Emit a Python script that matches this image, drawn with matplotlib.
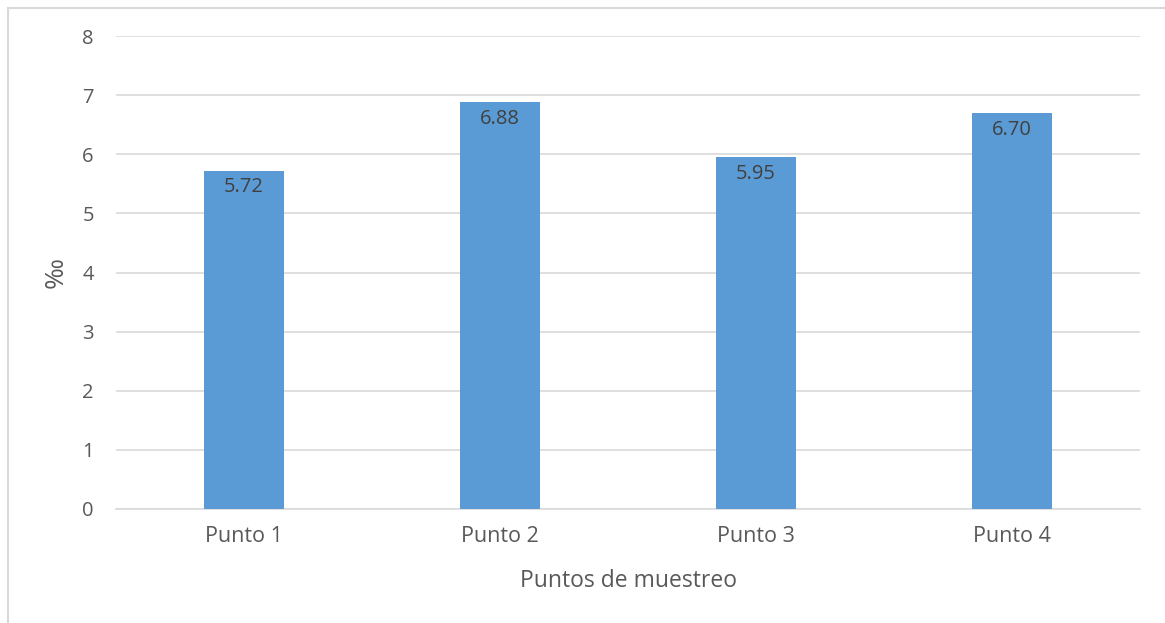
import matplotlib.pyplot as plt
from matplotlib.patches import Rectangle

categories = ["Punto 1", "Punto 2", "Punto 3", "Punto 4"]
values = [5.72, 6.88, 5.95, 6.70]
yticks = [0, 1, 2, 3, 4, 5, 6, 7, 8]

plt.rcParams['font.family'] = ['Open Sans', 'DejaVu Sans']

fig = plt.figure(figsize=(11.65, 6.23), dpi=100)
# chart frame (left and top edges visible)
fig.patches.append(Rectangle((7.5 / 1165, -0.05), 1.2, (623 - 7.5) / 623 + 0.05,
                             transform=fig.transFigure, fill=False,
                             edgecolor='#d9d9d9', linewidth=1.5))

ax = fig.add_axes([116 / 1165, 1 - 509 / 623, 1024 / 1165, (509 - 36) / 623])
x = range(len(categories))
bars = ax.bar(x, values, width=0.3125, color='#5b9bd5', zorder=3)

ax.set_xlim(-0.5, len(categories) - 0.5)
ax.set_ylim(0, 8)
ax.set_yticks(yticks)
ax.set_xticks(list(x))
ax.set_xticklabels(categories)
ax.grid(axis='y', color='#d9d9d9', linewidth=1.2, zorder=0)
for side in ['top', 'right', 'left']:
    ax.spines[side].set_visible(False)
ax.spines['bottom'].set_color('#d9d9d9')
ax.spines['bottom'].set_linewidth(1.2)
ax.tick_params(axis='both', length=0, labelsize=14.5, colors='#595959')
ax.tick_params(axis='x', labelsize=15.5, pad=12)
ax.tick_params(axis='y', pad=16)

for b, v in zip(bars, values):
    ax.annotate(f"{v:.2f}", (b.get_x() + b.get_width() / 2, v),
                xytext=(0, -12), textcoords='offset points',
                ha='center', va='center', fontsize=14.5, color='#404040')

ax.set_ylabel("‰", fontsize=19, color='#595959', labelpad=10)
ax.set_xlabel("Puntos de muestreo", fontsize=16.5, color='#595959', labelpad=16)

fig.savefig("out.png", dpi=100)
